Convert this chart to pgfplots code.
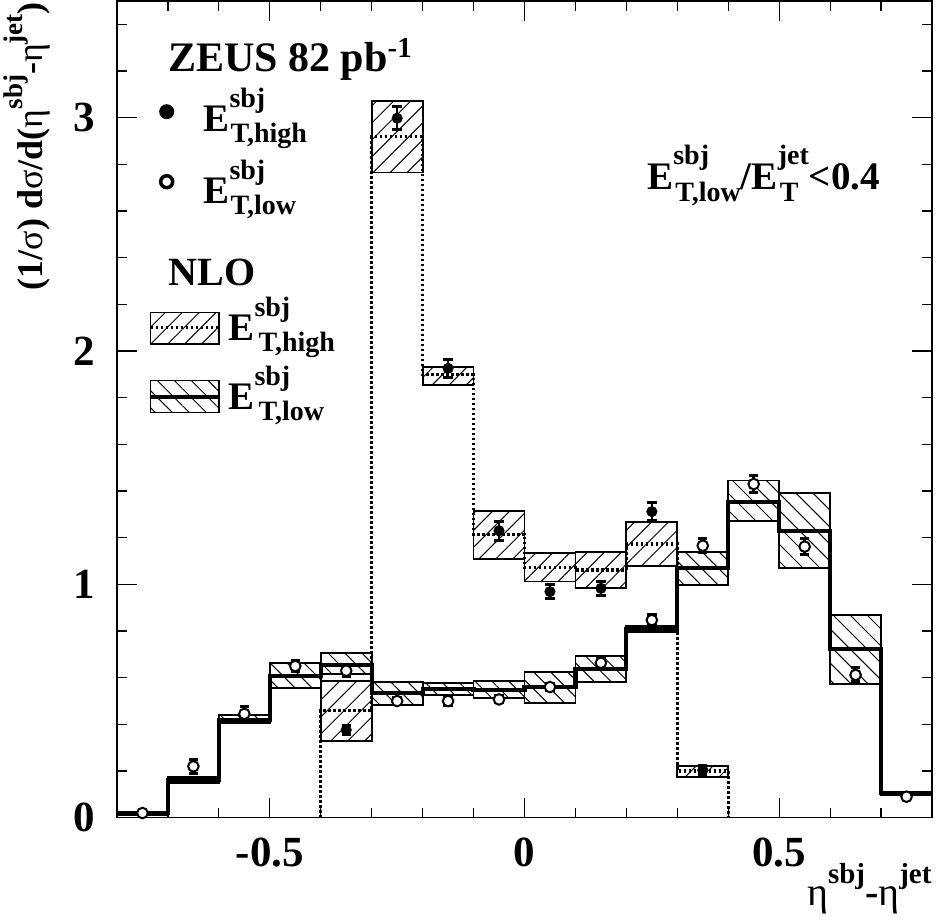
\documentclass[border=0pt]{standalone}
\usepackage{fontspec}
\setmainfont{Liberation Serif}
\usepackage{pgfplots}
\pgfplotsset{compat=1.18}
\usetikzlibrary{patterns.meta}

\newcommand\fs[1]{\fontsize{#1}{#1}\selectfont}
% #1 size, #2 raise, #3 sup, #4 lower, #5 sub, #6 sub shift
\newcommand\SupSub[6]{%
 \setbox0\hbox{\fs{#1}#3}\setbox2\hbox{\fs{#1}\hspace{#6}#5}%
 \ifdim\wd0>\wd2\relax\rlap{\raisebox{-#4}{\box2}}\raisebox{#2}{\box0}%
 \else\rlap{\raisebox{#2}{\box0}}\raisebox{-#4}{\box2}\fi}
\newcommand\Sup[3]{\raisebox{#2}{\fs{#1}#3}}
\newcommand\myeta{{\mdseries η}}
\newcommand\mysig{{\mdseries σ}}

\tikzset{
  hatchH/.style={pattern={Lines[angle=45,distance=12pt,line width=1pt]}},
  hatchL/.style={pattern={Lines[angle=-45,distance=12pt,line width=1pt]}},
  dotl/.style={line width=3.2pt, dash pattern=on 2.6pt off 2.4pt},
}
\newcommand\boxH[4]{\addplot[draw=black, line width=1.8pt, hatchH] coordinates {(#1,#3) (#2,#3) (#2,#4) (#1,#4)} -- cycle;}
\newcommand\boxL[4]{\addplot[draw=black, line width=1.8pt, hatchL] coordinates {(#1,#3) (#2,#3) (#2,#4) (#1,#4)} -- cycle;}

\begin{document}
\begin{tikzpicture}
\begin{axis}[
 name=ax, at={(0,0)}, anchor=south west,
 scale only axis, width=815pt, height=816.6pt,
 xmin=-0.8, xmax=0.8, ymin=0, ymax=3.5,
 axis line style={line width=1.2pt},
 tick style={black, line width=1.2pt},
 tick align=inside, tick pos=both,
 major tick length=20pt, minor tick length=10pt,
 xtick={-0.5,0,0.5}, xticklabels={-0.5,0,0.5},
 minor xtick={-0.7,-0.6,-0.4,-0.3,-0.2,-0.1,0.1,0.2,0.3,0.4,0.6,0.7},
 ytick={0,1,2,3}, yticklabels={0,1,2,3},
 minor ytick={0.2,0.4,0.6,0.8,1.2,1.4,1.6,1.8,2.2,2.4,2.6,2.8,3.2,3.4},
 xticklabel style={font=\fs{43}\bfseries, anchor=north, inner sep=0pt, yshift=-20pt},
 yticklabel style={font=\fs{43}\bfseries, anchor=east, inner sep=0pt, xshift=-22pt},
]
% NLO bands, E_T,low
\boxL{-0.8}{-0.7}{0.012}{0.026}
\boxL{-0.7}{-0.6}{0.148}{0.175}
\boxL{-0.6}{-0.5}{0.405}{0.44}
\boxL{-0.5}{-0.4}{0.557}{0.662}
\boxL{-0.4}{-0.3}{0.615}{0.705}
\boxL{-0.3}{-0.2}{0.483}{0.583}
\boxL{-0.2}{-0.1}{0.526}{0.576}
\boxL{-0.1}{0}{0.512}{0.586}
\boxL{0}{0.1}{0.493}{0.623}
\boxL{0.1}{0.2}{0.583}{0.693}
\boxL{0.2}{0.3}{0.795}{0.82}
\boxL{0.3}{0.4}{0.997}{1.14}
\boxL{0.4}{0.5}{1.273}{1.445}
\boxL{0.5}{0.6}{1.069}{1.39}
\boxL{0.6}{0.7}{0.572}{0.869}
\boxL{0.7}{0.8}{0.098}{0.112}
% NLO bands, E_T,high
\boxH{-0.4}{-0.3}{0.33}{0.587}
\boxH{-0.3}{-0.2}{2.765}{3.073}
\boxH{-0.2}{-0.1}{1.855}{1.933}
\boxH{-0.1}{0}{1.109}{1.316}
\boxH{0}{0.1}{1.012}{1.136}
\boxH{0.1}{0.2}{0.983}{1.14}
\boxH{0.2}{0.3}{1.08}{1.266}
\boxH{0.3}{0.4}{0.173}{0.223}
% NLO central, low
\addplot[const plot, black, line width=4.2pt] coordinates {
 (-0.8,0.019) (-0.7,0.16) (-0.6,0.42) (-0.5,0.607) (-0.4,0.655) (-0.3,0.533)
 (-0.2,0.55) (-0.1,0.547) (0,0.559) (0.1,0.637) (0.2,0.807) (0.3,1.069)
 (0.4,1.354) (0.5,1.229) (0.6,0.722) (0.7,0.105) (0.8,0.105)};
% NLO central, high
\addplot[const plot, black, dotl] coordinates {
 (-0.4,0) (-0.4,0.46) (-0.3,2.919) (-0.2,1.898) (-0.1,1.215) (0,1.072)
 (0.1,1.062) (0.2,1.173) (0.3,0.2) (0.4,0)};
% data, low
\addplot[only marks, black, mark=*, mark size=5.3pt,
 mark options={fill=white, draw=black, line width=2pt},
 error bars/.cd, y dir=both, y explicit,
 error bar style={line width=2.5pt, black},
 error mark options={rotate=90, line width=3pt, mark size=4.7pt, black}]
 coordinates {
 (-0.75,0.02) +- (0,0.005)
 (-0.65,0.22) +- (0,0.03)
 (-0.55,0.445) +- (0,0.03)
 (-0.45,0.65) +- (0,0.025)
 (-0.35,0.63) +- (0,0.025)
 (-0.25,0.50) +- (0,0.015)
 (-0.15,0.50) +- (0,0.02)
 (-0.05,0.507) +- (0,0.015)
 (0.05,0.56) +- (0,0.015)
 (0.15,0.664) +- (0,0.025)
 (0.25,0.847) +- (0,0.025)
 (0.35,1.166) +- (0,0.03)
 (0.45,1.43) +- (0,0.035)
 (0.55,1.162) +- (0,0.035)
 (0.65,0.612) +- (0,0.03)
 (0.75,0.09) +- (0,0.005)};
% data, high
\addplot[only marks, black, mark=*, mark size=5.3pt,
 error bars/.cd, y dir=both, y explicit,
 error bar style={line width=2.5pt, black},
 error mark options={rotate=90, line width=3pt, mark size=4.7pt, black}]
 coordinates {
 (-0.35,0.376) +- (0,0.02)
 (-0.25,2.998) +- (0,0.05)
 (-0.15,1.926) +- (0,0.04)
 (-0.05,1.23) +- (0,0.04)
 (0.05,0.969) +- (0,0.03)
 (0.15,0.983) +- (0,0.03)
 (0.25,1.312) +- (0,0.04)
 (0.35,0.204) +- (0,0.02)};
\end{axis}
% legend
\node[anchor=base west, inner sep=0pt, font=\fs{42}\bfseries] at (51pt,745.7pt) {ZEUS 82 pb\Sup{29}{14pt}{-1}};
\node[circle, fill=black, minimum size=15pt, inner sep=0pt] at (49.7pt,706pt) {};
\node[anchor=base west, inner sep=0pt, font=\fs{39}\bfseries] at (86.3pt,686pt) {E\SupSub{28}{24pt}{sbj}{11pt}{T,high}{1pt}};
\node[circle, draw=black, fill=white, line width=3.5pt, minimum size=12pt, inner sep=0pt] at (49.7pt,636pt) {};
\node[anchor=base west, inner sep=0pt, font=\fs{39}\bfseries] at (86.3pt,614.4pt) {E\SupSub{28}{24pt}{sbj}{11pt}{T,low}{1pt}};
\node[anchor=base west, inner sep=0pt, font=\fs{40}\bfseries] at (51.3pt,531.7pt) {NLO};
\draw[line width=1.5pt, hatchH] (33.7pt,473.7pt) rectangle (102pt,505.4pt);
\draw[dotl] (33.7pt,490pt) -- (102pt,490pt);
\node[anchor=base west, inner sep=0pt, font=\fs{39}\bfseries] at (111.3pt,476.7pt) {E\SupSub{28}{24pt}{sbj}{11pt}{T,high}{4pt}};
\draw[line width=1.5pt, hatchL] (33.7pt,405.4pt) rectangle (102pt,437pt);
\draw[line width=4.2pt] (33.7pt,421pt) -- (102pt,421pt);
\node[anchor=base west, inner sep=0pt, font=\fs{39}\bfseries] at (111.3pt,407.7pt) {E\SupSub{28}{24pt}{sbj}{11pt}{T,low}{4pt}};
% cut text
\node[anchor=base east, inner sep=0pt, font=\fs{39}\bfseries] at (763pt,627.7pt)
 {E\SupSub{28}{25pt}{sbj}{12pt}{T,low}{2pt}/E\SupSub{28}{25pt}{jet}{12pt}{T}{2pt}<0.4};
% axis titles
\node[rotate=90, anchor=base east, inner sep=0pt, font=\fs{36}\bfseries] at (-74pt,815.7pt)
 {(1/\mysig) d\mysig/d(\myeta\Sup{27}{20pt}{sbj}-\myeta\Sup{27}{20pt}{jet})};
\node[anchor=base east, inner sep=0pt, font=\fs{40}\bfseries] at (814.7pt,-87.3pt)
 {\myeta\Sup{29}{22pt}{sbj}-\myeta\Sup{29}{22pt}{jet}};
\pgfresetboundingbox
\useasboundingbox (-117pt,-101.3pt) rectangle (819pt,817.7pt);
\end{tikzpicture}
\end{document}
